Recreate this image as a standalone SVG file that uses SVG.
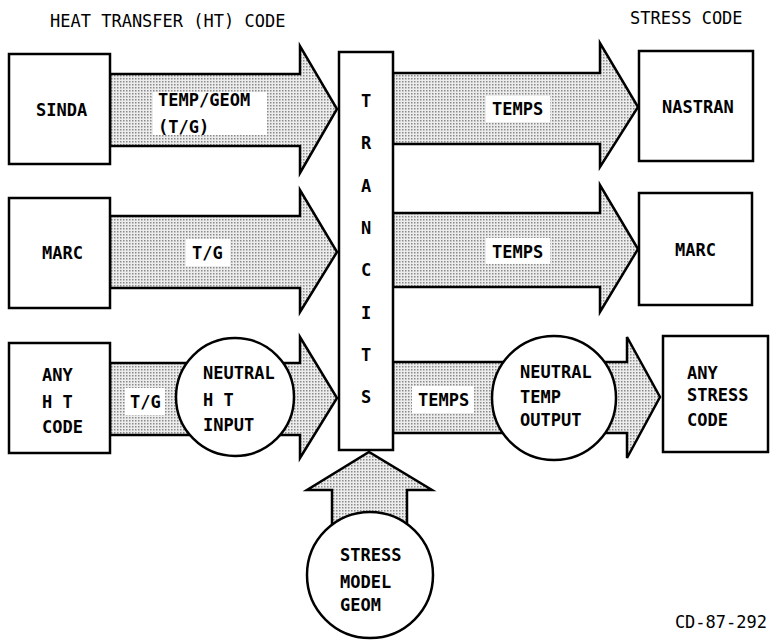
<svg xmlns="http://www.w3.org/2000/svg" width="770" height="640" viewBox="0 0 770 640">
<style>
.box{fill:#fff;stroke:#000;stroke-width:2.5}
.arr{fill:url(#dots);stroke:#000;stroke-width:2.5;stroke-linejoin:miter}
.lbl{fill:#fff;stroke:none}
text{font-family:"DejaVu Sans Mono","Liberation Mono",monospace;font-size:17px;font-weight:bold;fill:#000}
.h{font-weight:normal}
.c{text-anchor:middle}
</style>
<defs>
<pattern id="dots" width="3" height="3" patternUnits="userSpaceOnUse">
<rect width="3" height="3" fill="#ececec"/>
<rect width="1.5" height="1.5" fill="#8a8a8a"/>
</pattern>
</defs>
<text class="h" x="50" y="27">HEAT TRANSFER (HT) CODE</text>
<text class="h" x="630" y="24">STRESS CODE</text>
<g id="connectors">
<path class="arr" d="M110,74 H300 V46 L337,109 L300,173 V146 H110 Z"/>
<path class="arr" d="M110,216 H300 V190 L337,252 L300,312 V288 H110 Z"/>
<path class="arr" d="M110,363 H300 V337 L337,398 L300,458 V435 H110 Z"/>
<path class="arr" d="M393,73 H600 V43 L638,107 L600,167 V144 H393 Z"/>
<path class="arr" d="M393,213 H600 V185 L638,249 L600,312 V287 H393 Z"/>
<path class="arr" d="M393,362 H627 V337 L660,397 L627,458 V433 H393 Z"/>
<path class="arr" d="M332,540 V490 H307 L369,452 L432,490 H407 V540 Z"/>
<rect class="lbl" x="153" y="92" width="114" height="43"/>
<text x="158" y="106">TEMP/GEOM</text>
<text x="158" y="133">(T/G)</text>
<rect class="lbl" x="186" y="239" width="44" height="27"/>
<text x="192" y="259">T/G</text>
<rect class="lbl" x="125" y="388" width="40" height="27"/>
<text x="130" y="408">T/G</text>
<rect class="lbl" x="486" y="96" width="64" height="26"/>
<text x="492" y="115">TEMPS</text>
<rect class="lbl" x="486" y="238" width="64" height="26"/>
<text x="492" y="258">TEMPS</text>
<rect class="lbl" x="412" y="386" width="62" height="27"/>
<text x="418" y="406">TEMPS</text>
</g>
<g id="sinda"><rect class="box" x="9" y="54" width="101" height="110"/><text x="36" y="116">SINDA</text></g>
<g id="marc-ht"><rect class="box" x="9" y="198" width="101" height="110"/><text x="42" y="259">MARC</text></g>
<g id="any-ht"><rect class="box" x="9" y="343" width="101" height="110"/>
<text x="42" y="381">ANY</text><text x="42" y="408">H T</text><text x="42" y="433">CODE</text></g>
<g id="neutral-ht"><circle class="box" cx="235" cy="397" r="59"/>
<text x="203" y="379">NEUTRAL</text><text x="203" y="406">H T</text><text x="203" y="431">INPUT</text></g>
<g id="trancits"><rect class="box" x="339" y="52" width="54" height="398"/>
<text class="c" x="366" y="107">T</text><text class="c" x="366" y="149">R</text><text class="c" x="366" y="192">A</text>
<text class="c" x="366" y="234">N</text><text class="c" x="366" y="276">C</text><text class="c" x="366" y="319">I</text>
<text class="c" x="366" y="361">T</text><text class="c" x="366" y="403">S</text></g>
<g id="nastran"><rect class="box" x="639" y="51" width="114" height="110"/><text x="662" y="113">NASTRAN</text></g>
<g id="marc-stress"><rect class="box" x="639" y="193" width="113" height="112"/><text x="675" y="256">MARC</text></g>
<g id="neutral-temp"><circle class="box" cx="554" cy="398" r="62"/>
<text x="520" y="378">NEUTRAL</text><text x="520" y="403">TEMP</text><text x="520" y="426">OUTPUT</text></g>
<g id="any-stress"><rect class="box" x="663" y="336" width="105" height="116"/>
<text x="687" y="379">ANY</text><text x="687" y="401">STRESS</text><text x="687" y="426">CODE</text></g>
<g id="stress-model"><circle class="box" cx="370" cy="575" r="63"/>
<text x="340" y="561">STRESS</text><text x="340" y="588">MODEL</text><text x="340" y="611">GEOM</text></g>
<text class="h" x="767" y="628" text-anchor="end">CD-87-292</text>
</svg>
